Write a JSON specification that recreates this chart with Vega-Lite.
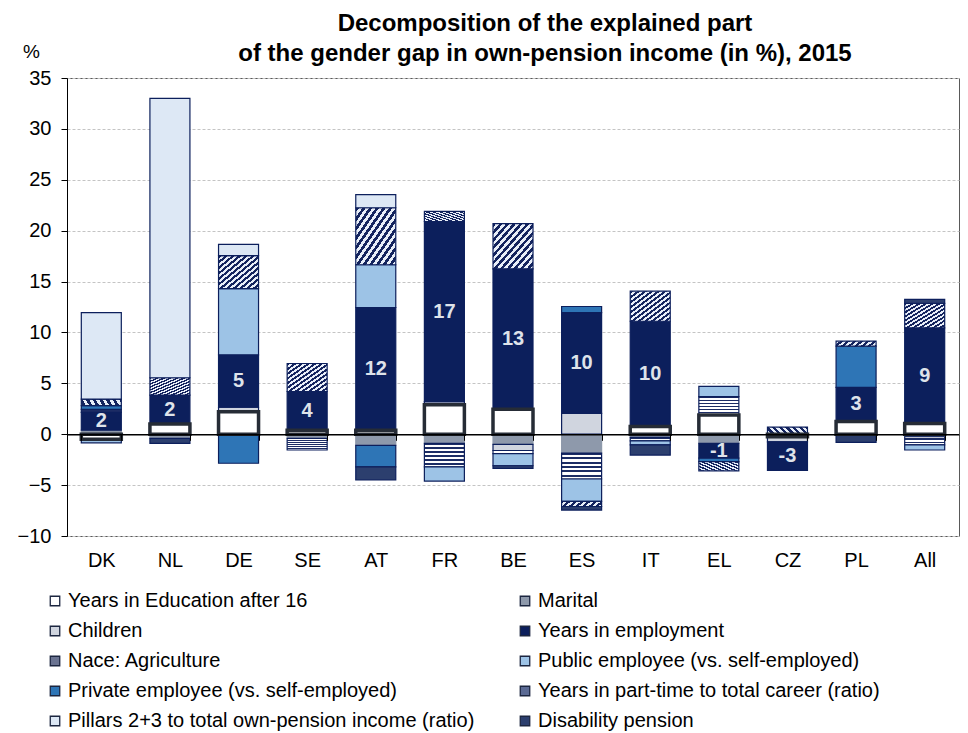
{
  "$schema": "https://vega.github.io/schema/vega-lite/v6.json",
  "width": 892,
  "height": 458,
  "autosize": {"type": "none"},
  "padding": {"left": 67, "top": 78, "right": 9, "bottom": 197},
  "background": "#ffffff",
  "config": {"font": "Liberation Sans", "view": {"stroke": "#595959", "strokeWidth": 1}},
  "title": {
    "text": ["Decomposition of the explained part", "of the gender gap in own-pension income (in %), 2015"],
    "fontSize": 24, "fontWeight": "bold", "font": "Liberation Sans", "color": "#000000",
    "anchor": "middle", "frame": "group", "dx": 32, "offset": -24, "lineHeight": 30
  },
  "data": {"values": [
    {"country": "DK", "series": "Marital", "n": 2, "value": 0.4},
    {"country": "DK", "series": "Years in employment", "n": 4, "value": 1.75, "label": "2"},
    {"country": "DK", "series": "Nace: Agriculture", "n": 5, "value": 0.3},
    {"country": "DK", "series": "Public employee (vs. self-employed)", "n": 6, "value": -0.35},
    {"country": "DK", "series": "Private employee (vs. self-employed)", "n": 7, "value": 0.35},
    {"country": "DK", "series": "Years in part-time to total career (ratio)", "n": 8, "value": 0.65},
    {"country": "DK", "series": "Pillars 2+3 to total own-pension income (ratio)", "n": 9, "value": 8.5},
    {"country": "NL", "series": "Marital", "n": 2, "value": -0.4},
    {"country": "NL", "series": "Years in employment", "n": 4, "value": 2.85, "label": "2"},
    {"country": "NL", "series": "Years in part-time to total career (ratio)", "n": 8, "value": 1.7},
    {"country": "NL", "series": "Pillars 2+3 to total own-pension income (ratio)", "n": 9, "value": 27.45},
    {"country": "NL", "series": "Disability pension", "n": 10, "value": -0.5},
    {"country": "DE", "series": "Children", "n": 3, "value": 0.45},
    {"country": "DE", "series": "Years in employment", "n": 4, "value": 5.15, "label": "5"},
    {"country": "DE", "series": "Public employee (vs. self-employed)", "n": 6, "value": 6.5},
    {"country": "DE", "series": "Private employee (vs. self-employed)", "n": 7, "value": -2.85},
    {"country": "DE", "series": "Years in part-time to total career (ratio)", "n": 8, "value": 3.25},
    {"country": "DE", "series": "Pillars 2+3 to total own-pension income (ratio)", "n": 9, "value": 1.1},
    {"country": "SE", "series": "Marital", "n": 2, "value": -0.4},
    {"country": "SE", "series": "Years in employment", "n": 4, "value": 3.8, "label": "4"},
    {"country": "SE", "series": "Nace: Agriculture", "n": 5, "value": -1.15},
    {"country": "SE", "series": "Years in part-time to total career (ratio)", "n": 8, "value": 2.75},
    {"country": "AT", "series": "Marital", "n": 2, "value": -1.1},
    {"country": "AT", "series": "Years in employment", "n": 4, "value": 12.05, "label": "12"},
    {"country": "AT", "series": "Public employee (vs. self-employed)", "n": 6, "value": 4.2},
    {"country": "AT", "series": "Private employee (vs. self-employed)", "n": 7, "value": -2.1},
    {"country": "AT", "series": "Years in part-time to total career (ratio)", "n": 8, "value": 5.6},
    {"country": "AT", "series": "Pillars 2+3 to total own-pension income (ratio)", "n": 9, "value": 1.3},
    {"country": "AT", "series": "Disability pension", "n": 10, "value": -1.3},
    {"country": "FR", "series": "Marital", "n": 2, "value": -0.9},
    {"country": "FR", "series": "Children", "n": 3, "value": 0.3},
    {"country": "FR", "series": "Years in employment", "n": 4, "value": 17.7, "label": "17"},
    {"country": "FR", "series": "Nace: Agriculture", "n": 5, "value": -2.3},
    {"country": "FR", "series": "Public employee (vs. self-employed)", "n": 6, "value": -1.4},
    {"country": "FR", "series": "Years in part-time to total career (ratio)", "n": 8, "value": 1.0},
    {"country": "BE", "series": "Marital", "n": 2, "value": -1.0},
    {"country": "BE", "series": "Children", "n": 3, "value": -0.6},
    {"country": "BE", "series": "Years in employment", "n": 4, "value": 13.8, "label": "13"},
    {"country": "BE", "series": "Nace: Agriculture", "n": 5, "value": -0.3},
    {"country": "BE", "series": "Public employee (vs. self-employed)", "n": 6, "value": -1.2},
    {"country": "BE", "series": "Years in part-time to total career (ratio)", "n": 8, "value": 4.45},
    {"country": "BE", "series": "Disability pension", "n": 10, "value": -0.25},
    {"country": "ES", "series": "Marital", "n": 2, "value": -1.85},
    {"country": "ES", "series": "Children", "n": 3, "value": 2.05},
    {"country": "ES", "series": "Years in employment", "n": 4, "value": 9.9, "label": "10"},
    {"country": "ES", "series": "Nace: Agriculture", "n": 5, "value": -2.55},
    {"country": "ES", "series": "Public employee (vs. self-employed)", "n": 6, "value": -2.2},
    {"country": "ES", "series": "Private employee (vs. self-employed)", "n": 7, "value": 0.6},
    {"country": "ES", "series": "Years in part-time to total career (ratio)", "n": 8, "value": -0.5},
    {"country": "ES", "series": "Disability pension", "n": 10, "value": -0.35},
    {"country": "IT", "series": "Marital", "n": 2, "value": -0.3},
    {"country": "IT", "series": "Years in employment", "n": 4, "value": 10.35, "label": "10"},
    {"country": "IT", "series": "Nace: Agriculture", "n": 5, "value": -0.35},
    {"country": "IT", "series": "Public employee (vs. self-employed)", "n": 6, "value": -0.4},
    {"country": "IT", "series": "Years in part-time to total career (ratio)", "n": 8, "value": 2.95},
    {"country": "IT", "series": "Disability pension", "n": 10, "value": -1.0},
    {"country": "EL", "series": "Marital", "n": 2, "value": -0.9},
    {"country": "EL", "series": "Years in employment", "n": 4, "value": -1.45, "label": "-1"},
    {"country": "EL", "series": "Nace: Agriculture", "n": 5, "value": 1.8},
    {"country": "EL", "series": "Public employee (vs. self-employed)", "n": 6, "value": 1.0},
    {"country": "EL", "series": "Private employee (vs. self-employed)", "n": 7, "value": -0.35},
    {"country": "EL", "series": "Years in part-time to total career (ratio)", "n": 8, "value": -0.9},
    {"country": "CZ", "series": "Children", "n": 3, "value": -0.5},
    {"country": "CZ", "series": "Years in employment", "n": 4, "value": -2.8, "label": "-3"},
    {"country": "CZ", "series": "Years in part-time to total career (ratio)", "n": 8, "value": 0.7},
    {"country": "PL", "series": "Years in employment", "n": 4, "value": 3.35, "label": "3"},
    {"country": "PL", "series": "Private employee (vs. self-employed)", "n": 7, "value": 4.05},
    {"country": "PL", "series": "Years in part-time to total career (ratio)", "n": 8, "value": 0.5},
    {"country": "PL", "series": "Disability pension", "n": 10, "value": -0.8},
    {"country": "All", "series": "Marital", "n": 2, "value": -0.25},
    {"country": "All", "series": "Years in employment", "n": 4, "value": 9.4, "label": "9"},
    {"country": "All", "series": "Nace: Agriculture", "n": 5, "value": -0.8},
    {"country": "All", "series": "Public employee (vs. self-employed)", "n": 6, "value": -0.5},
    {"country": "All", "series": "Years in part-time to total career (ratio)", "n": 8, "value": 2.4},
    {"country": "All", "series": "Disability pension", "n": 10, "value": 0.4},
    {"country": "DK", "series": "Years in Education after 16", "n": 1, "value": -0.5},
    {"country": "NL", "series": "Years in Education after 16", "n": 1, "value": 1.0},
    {"country": "DE", "series": "Years in Education after 16", "n": 1, "value": 2.2},
    {"country": "SE", "series": "Years in Education after 16", "n": 1, "value": 0.4},
    {"country": "AT", "series": "Years in Education after 16", "n": 1, "value": 0.4},
    {"country": "FR", "series": "Years in Education after 16", "n": 1, "value": 2.9},
    {"country": "BE", "series": "Years in Education after 16", "n": 1, "value": 2.45},
    {"country": "IT", "series": "Years in Education after 16", "n": 1, "value": 0.75},
    {"country": "EL", "series": "Years in Education after 16", "n": 1, "value": 1.9},
    {"country": "CZ", "series": "Years in Education after 16", "n": 1, "value": -0.25},
    {"country": "PL", "series": "Years in Education after 16", "n": 1, "value": 1.25},
    {"country": "All", "series": "Years in Education after 16", "n": 1, "value": 1.05}
  ]},
  "transform": [
    {"stack": "value", "groupby": ["country"], "sort": [{"field": "n", "order": "ascending"}], "as": ["y0", "y1"], "offset": "zero"}
  ],
  "layer": [
    {
      "mark": {"type": "bar"},
      "encoding": {
        "x": {
          "field": "country", "type": "nominal",
          "sort": ["DK", "NL", "DE", "SE", "AT", "FR", "BE", "ES", "IT", "EL", "CZ", "PL", "All"],
          "scale": {"paddingInner": 0.417, "paddingOuter": 0.2085},
          "axis": {"title": null, "orient": "bottom", "offset": -101.7, "labelAngle": 0, "labelFontSize": 20, "labelFont": "Liberation Sans", "labelColor": "#000000", "labelPadding": 110, "tickBand": "extent", "tickSize": 6, "tickColor": "#000000", "domainColor": "#000000", "domainWidth": 1.5, "zindex": 1}
        },
        "y": {
          "field": "y1", "type": "quantitative", "title": "%",
          "scale": {"domain": [-10, 35], "nice": false, "zero": false},
          "axis": {"values": [-10, -5, 0, 5, 10, 15, 20, 25, 30, 35], "title": "%", "titleAngle": 0, "titleX": -36, "titleY": -27, "titleAlign": "center", "titleBaseline": "middle", "titleFontSize": 19, "titleFontWeight": "normal", "titleColor": "#000000", "titleFont": "Liberation Sans", "labelFontSize": 20, "labelFont": "Liberation Sans", "labelColor": "#000000", "labelPadding": 10, "labelFlush": false, "labelOverlap": false, "tickSize": 6, "tickColor": "#000000", "domainColor": "#000000", "gridColor": "#c4c4c4", "gridDash": [3, 2]}
        },
        "y2": {"field": "y0"},
        "fill": {
          "field": "series", "type": "nominal",
          "scale": {
            "domain": ["Years in Education after 16", "Marital", "Children", "Years in employment", "Nace: Agriculture", "Public employee (vs. self-employed)", "Private employee (vs. self-employed)", "Years in part-time to total career (ratio)", "Pillars 2+3 to total own-pension income (ratio)", "Disability pension"],
            "range": ["#ffffff", "#8e99ab", "#d0d5df", "#0c1f5c", "#6a7391", "#9dc3e6", "#2e75b6", "#5b6a94", "#dde8f5", "#2c3f6e"]
          },
          "condition": [
            {"test": "datum.series === 'Nace: Agriculture'", "value": {"gradient": "linear", "x1": 0, "y1": 0, "x2": 0, "y2": 1, "stops": [
              {"offset": 0, "color": "#1c2c64"}, {"offset": 0.075, "color": "#1c2c64"}, {"offset": 0.075, "color": "#ffffff"}, {"offset": 0.1667, "color": "#ffffff"},
              {"offset": 0.1667, "color": "#1c2c64"}, {"offset": 0.2417, "color": "#1c2c64"}, {"offset": 0.2417, "color": "#ffffff"}, {"offset": 0.3333, "color": "#ffffff"},
              {"offset": 0.3333, "color": "#1c2c64"}, {"offset": 0.4083, "color": "#1c2c64"}, {"offset": 0.4083, "color": "#ffffff"}, {"offset": 0.5, "color": "#ffffff"},
              {"offset": 0.5, "color": "#1c2c64"}, {"offset": 0.575, "color": "#1c2c64"}, {"offset": 0.575, "color": "#ffffff"}, {"offset": 0.6667, "color": "#ffffff"},
              {"offset": 0.6667, "color": "#1c2c64"}, {"offset": 0.7417, "color": "#1c2c64"}, {"offset": 0.7417, "color": "#ffffff"}, {"offset": 0.8333, "color": "#ffffff"},
              {"offset": 0.8333, "color": "#1c2c64"}, {"offset": 0.9083, "color": "#1c2c64"}, {"offset": 0.9083, "color": "#ffffff"}, {"offset": 1, "color": "#ffffff"}
            ]}},
            {"test": "datum.series === 'Years in part-time to total career (ratio)'", "value": {"gradient": "linear", "x1": 0, "y1": 0, "x2": 1, "y2": 1, "stops": [
              {"offset": 0, "color": "#14245e"}, {"offset": 0.04167, "color": "#14245e"}, {"offset": 0.04167, "color": "#e8eef8"}, {"offset": 0.08333, "color": "#e8eef8"},
              {"offset": 0.08333, "color": "#14245e"}, {"offset": 0.125, "color": "#14245e"}, {"offset": 0.125, "color": "#e8eef8"}, {"offset": 0.16667, "color": "#e8eef8"},
              {"offset": 0.16667, "color": "#14245e"}, {"offset": 0.20833, "color": "#14245e"}, {"offset": 0.20833, "color": "#e8eef8"}, {"offset": 0.25, "color": "#e8eef8"},
              {"offset": 0.25, "color": "#14245e"}, {"offset": 0.29167, "color": "#14245e"}, {"offset": 0.29167, "color": "#e8eef8"}, {"offset": 0.33333, "color": "#e8eef8"},
              {"offset": 0.33333, "color": "#14245e"}, {"offset": 0.375, "color": "#14245e"}, {"offset": 0.375, "color": "#e8eef8"}, {"offset": 0.41667, "color": "#e8eef8"},
              {"offset": 0.41667, "color": "#14245e"}, {"offset": 0.45833, "color": "#14245e"}, {"offset": 0.45833, "color": "#e8eef8"}, {"offset": 0.5, "color": "#e8eef8"},
              {"offset": 0.5, "color": "#14245e"}, {"offset": 0.54167, "color": "#14245e"}, {"offset": 0.54167, "color": "#e8eef8"}, {"offset": 0.58333, "color": "#e8eef8"},
              {"offset": 0.58333, "color": "#14245e"}, {"offset": 0.625, "color": "#14245e"}, {"offset": 0.625, "color": "#e8eef8"}, {"offset": 0.66667, "color": "#e8eef8"},
              {"offset": 0.66667, "color": "#14245e"}, {"offset": 0.70833, "color": "#14245e"}, {"offset": 0.70833, "color": "#e8eef8"}, {"offset": 0.75, "color": "#e8eef8"},
              {"offset": 0.75, "color": "#14245e"}, {"offset": 0.79167, "color": "#14245e"}, {"offset": 0.79167, "color": "#e8eef8"}, {"offset": 0.83333, "color": "#e8eef8"},
              {"offset": 0.83333, "color": "#14245e"}, {"offset": 0.875, "color": "#14245e"}, {"offset": 0.875, "color": "#e8eef8"}, {"offset": 0.91667, "color": "#e8eef8"},
              {"offset": 0.91667, "color": "#14245e"}, {"offset": 0.95833, "color": "#14245e"}, {"offset": 0.95833, "color": "#e8eef8"}, {"offset": 1, "color": "#e8eef8"}
            ]}}
          ],
          "legend": {
            "orient": "none", "legendX": -22, "legendY": 513, "direction": "horizontal", "columns": 2, "columnPadding": 40, "rowPadding": 10, "gridAlign": "all",
            "title": null, "symbolType": "square", "symbolSize": 90, "labelFontSize": 20, "labelFont": "Liberation Sans", "labelColor": "#000000", "labelLimit": 600, "labelOffset": 3,
            "symbolStrokeColor": "#1c2640", "symbolStrokeWidth": 1.3
          }
        },
        "stroke": {"condition": [{"test": "datum.series === 'Years in Education after 16'", "value": "#262c36"}, {"test": "datum.series === 'Marital'", "value": "#8e99ab"}], "value": "#0c1f5c"},
        "strokeWidth": {"condition": [{"test": "datum.series === 'Years in Education after 16'", "value": 3.5}], "value": 1.2}
      }
    },
    {
      "transform": [
        {"filter": "datum.n === 4"},
        {"fold": ["y0", "y1"], "as": ["end", "yy"]},
        {"aggregate": [{"op": "mean", "field": "yy", "as": "ym"}], "groupby": ["country", "label"]}
      ],
      "mark": {"type": "text", "fontSize": 20, "fontWeight": "bold", "color": "#dfe3ea", "font": "Liberation Sans", "baseline": "middle", "align": "center"},
      "encoding": {
        "x": {"field": "country", "type": "nominal", "sort": ["DK", "NL", "DE", "SE", "AT", "FR", "BE", "ES", "IT", "EL", "CZ", "PL", "All"]},
        "y": {"field": "ym", "type": "quantitative", "title": "%", "scale": {"domain": [-10, 35], "nice": false, "zero": false}},
        "text": {"field": "label"}
      }
    }
  ]
}
